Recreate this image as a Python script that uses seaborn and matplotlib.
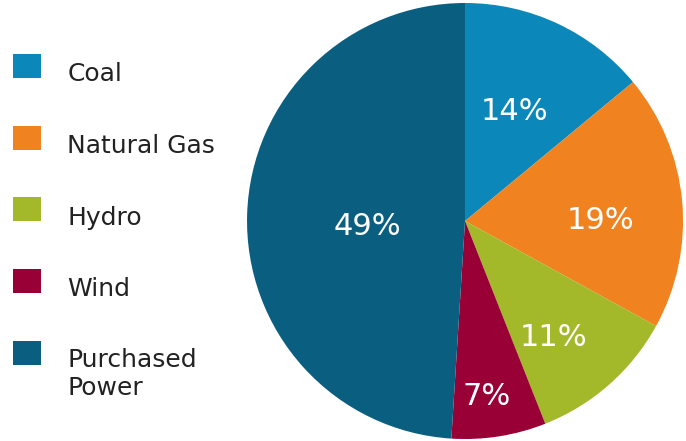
import numpy as np
import matplotlib.pyplot as plt
import seaborn as sns
from matplotlib.patches import Patch, Rectangle
from matplotlib.legend_handler import HandlerPatch

# dados do gráfico
fontes = ['Coal', 'Natural Gas', 'Hydro', 'Wind', 'Purchased\nPower']
percentuais = [14, 19, 11, 7, 49]
cores = ['#0b87ba', '#f0821f', '#a4b92a', '#990035', '#0a5e80']
dist_rotulo = [0.55, 0.62, 0.67, 0.81, 0.45]
desvio_ang = [1, -5, -4, -2, 5]

sns.set_theme(style='white')
plt.rcParams['font.family'] = ['DejaVu Sans']

fig = plt.figure(figsize=(6.86, 4.41), dpi=100)
ax = fig.add_axes([0.3601, 0.0045, 0.6356, 0.9887])

fatias, textos, rotulos = ax.pie(
    percentuais, colors=cores, startangle=90, counterclock=False,
    autopct='%d%%', textprops={'color': 'white', 'fontsize': 22},
    wedgeprops={'linewidth': 0})

# reposiciona rótulos ao longo da bissetriz de cada fatia
for fatia, rot, d, da in zip(fatias, rotulos, dist_rotulo, desvio_ang):
    ang = np.deg2rad((fatia.theta1 + fatia.theta2) / 2 + da)
    rot.set_position((d * np.cos(ang), d * np.sin(ang)))

ax.set_xlim(-1, 1)
ax.set_ylim(-1, 1)
ax.set_aspect('equal')


# quadrado da legenda um pouco acima do centro do texto
def quadrado(sobe):
    def f(legend, orig_handle, xdescent, ydescent, width, height, fontsize):
        return Rectangle((-xdescent, -ydescent + sobe), width, height)
    return HandlerPatch(patch_func=f)


handles = [Patch(facecolor=c, edgecolor='none') for c in cores]
mapa = {h: quadrado(16 if '\n' in nome else 5) for h, nome in zip(handles, fontes)}
leg = fig.legend(handles, fontes, loc='upper left', bbox_to_anchor=(0.005, 0.885),
                 frameon=False, fontsize=18, handlelength=1.1, handleheight=1.1,
                 handletextpad=1.05, labelspacing=1.85, borderaxespad=0,
                 labelcolor='#222222', handler_map=mapa)
for t in leg.get_texts():
    t.set_linespacing(1.25)

fig.savefig('out.png', dpi=100, facecolor='white')
